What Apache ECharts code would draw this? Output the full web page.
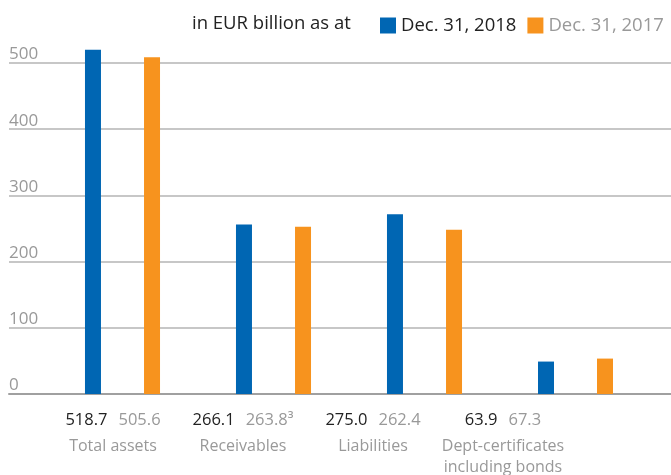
<!DOCTYPE html>
<html>
<head>
<meta charset="utf-8">
<script src="https://cdn.jsdelivr.net/npm/echarts@6/dist/echarts.min.js"></script>
<style>
  html, body { margin: 0; padding: 0; background: #fff; }
  #main { width: 671px; height: 475px; }
</style>
</head>
<body>
<div id="main"></div>
<script>
// bar heights as drawn, printed figures below the axis
var categories = ['Total assets', 'Receivables', 'Liabilities', 'Dept-certificates\nincluding bonds'];
var values2018 = [520, 256, 271.5, 49];
var values2017 = [508.5, 252.5, 248, 53.5];
var labels2018 = ['518.7', '266.1', '275.0', '63.9'];
var labels2017 = ['505.6', '263.8³', '262.4', '67.3'];
var yTicks = [0, 100, 200, 300, 400, 500];

var BLUE = '#0066b3';
var ORANGE = '#f7931e';
var FONT = 'Open Sans';

var chart = echarts.init(document.getElementById('main'));

var top_ = 63, bottom_ = 81;

var option = {
  animation: false,
  textStyle: { fontFamily: FONT },
  title: {
    text: 'in EUR billion as at',
    left: 187,
    top: 9,
    textStyle: { fontSize: 18.5, fontWeight: 'normal', color: '#222', fontFamily: FONT }
  },
  legend: {
    left: 380,
    top: 16,
    padding: 0,
    icon: 'rect',
    itemWidth: 16,
    itemHeight: 16,
    itemGap: 11,
    textStyle: { fontSize: 18.5, fontFamily: FONT },
    data: [
      { name: 'Dec. 31, 2018', textStyle: { color: '#222' } },
      { name: 'Dec. 31, 2017', textStyle: { color: '#999' } }
    ]
  },
  grid: [
    // full width, only for the grid lines
    { left: 9, right: 0, top: top_, bottom: bottom_ },
    // bars
    { left: 47, width: 604, top: top_, bottom: bottom_ },
    // labels under the axis
    { left: 48, width: 520, top: top_, bottom: bottom_ }
  ],
  xAxis: [
    {
      gridIndex: 0, type: 'category', data: ['x'],
      axisLine: { show: true, lineStyle: { color: '#a0a0a0', width: 2 } },
      axisTick: { show: false }, axisLabel: { show: false }
    },
    {
      gridIndex: 1, type: 'category', data: categories,
      axisLine: { show: false }, axisTick: { show: false }, axisLabel: { show: false }
    },
    {
      gridIndex: 2, type: 'category', data: categories,
      axisLine: { show: false }, axisTick: { show: false },
      axisLabel: {
        margin: 11,
        interval: 0,
        formatter: function (v, i) {
          var lines = v.split('\n').map(function (s) { return '{n|' + s + '}'; });
          return '{a|' + labels2018[i] + '}{b|' + labels2017[i] + '}\n' + lines.join('\n');
        },
        rich: {
          a: { fontSize: 16.5, color: '#222', lineHeight: 31, fontFamily: FONT },
          b: { fontSize: 16.5, color: '#999', lineHeight: 31, padding: [0, 0, 0, 11], fontFamily: FONT },
          n: { fontSize: 16, color: '#999', lineHeight: 21, fontFamily: FONT }
        }
      }
    }
  ],
  yAxis: [
    {
      gridIndex: 0, type: 'value', min: 0, max: 500, interval: 100,
      axisLine: { show: false }, axisTick: { show: false },
      splitLine: { lineStyle: { color: '#b4b4b4', width: 1.5 } },
      axisLabel: {
        inside: true, margin: 0, verticalAlign: 'bottom', align: 'left',
        fontSize: 17, color: '#999', fontFamily: FONT,
        formatter: function (v) { return yTicks.indexOf(v) >= 0 ? String(v) : ''; }
      }
    },
    { gridIndex: 1, type: 'value', min: 0, max: 500, show: false },
    { gridIndex: 2, type: 'value', min: 0, max: 500, show: false }
  ],
  series: [
    {
      name: 'Dec. 31, 2018', type: 'bar', xAxisIndex: 1, yAxisIndex: 1,
      data: values2018, barWidth: 16, barGap: '269%', clip: false,
      itemStyle: { color: BLUE }
    },
    {
      name: 'Dec. 31, 2017', type: 'bar', xAxisIndex: 1, yAxisIndex: 1,
      data: values2017, barWidth: 16, clip: false,
      itemStyle: { color: ORANGE }
    }
  ]
};

chart.setOption(option);
</script>
</body>
</html>
